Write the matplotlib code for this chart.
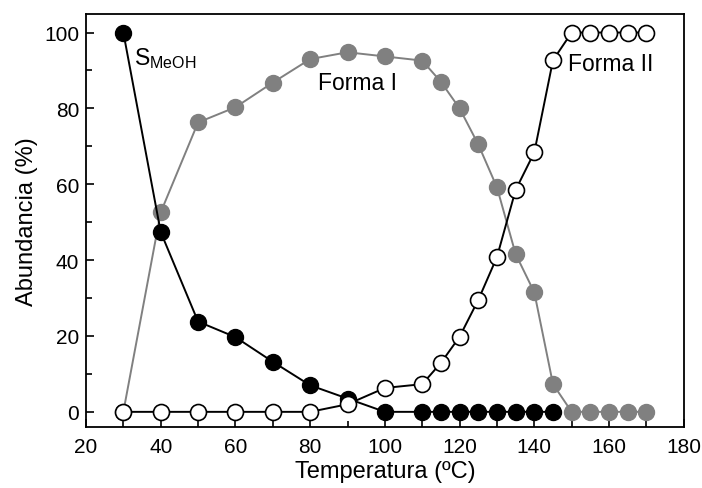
import matplotlib
matplotlib.use("Agg")
import matplotlib.pyplot as plt
import numpy as np

plt.rcParams['font.family'] = ['Liberation Sans', 'DejaVu Sans']

# Temperature (ºC) and abundance (%) of each phase
temp_smeoh = [30, 40, 50, 60, 70, 80, 90, 100, 110, 115, 120, 125, 130, 135, 140, 145]
smeoh = [100, 47.4, 23.8, 19.7, 13.2, 7.0, 3.5, 0, 0, 0, 0, 0, 0, 0, 0, 0]

temp_forma1 = [30, 40, 50, 60, 70, 80, 90, 100, 110, 115, 120, 125, 130, 135, 140, 145,
               150, 155, 160, 165, 170]
forma1 = [0, 52.6, 76.3, 80.3, 86.8, 93.0, 94.8, 93.7, 92.6, 87.0, 80.0, 70.5, 59.2,
          41.6, 31.5, 7.3, 0, 0, 0, 0, 0]

temp_forma2 = [30, 40, 50, 60, 70, 80, 90, 100, 110, 115, 120, 125, 130, 135, 140, 145,
               150, 155, 160, 165, 170]
forma2 = [0, 0, 0, 0, 0, 0, 2.0, 6.3, 7.3, 12.9, 19.8, 29.5, 40.8, 58.5, 68.4, 92.7,
          100, 100, 100, 100, 100]

xticks = [20, 40, 60, 80, 100, 120, 140, 160, 180]
yticks = [0, 20, 40, 60, 80, 100]

fig = plt.figure(figsize=(7.02, 4.89), dpi=100)
ax = fig.add_axes([0.1225, 0.1247, 0.8515, 0.8455])

gray = '#808080'
ms = 11.5
ax.plot(temp_forma1, forma1, '-', color=gray, lw=1.4, marker='o', ms=ms,
        mfc=gray, mec=gray, zorder=2)
ax.plot(temp_smeoh, smeoh, '-', color='black', lw=1.4, marker='o', ms=ms,
        mfc='black', mec='black', zorder=3)
ax.plot(temp_forma2, forma2, '-', color='black', lw=1.4, marker='o', ms=ms,
        mfc='white', mec='black', mew=1.2, zorder=4)

ax.set_xlim(20, 180)
ax.set_ylim(-4, 105)
ax.set_xticks(xticks)
ax.set_yticks(yticks)
ax.set_xticks(np.arange(30, 180, 20), minor=True)
ax.set_yticks(np.arange(10, 100, 20), minor=True)
ax.tick_params(axis='both', which='both', direction='in', top=False, right=False,
               labelsize=15, width=1.2)
ax.tick_params(which='major', length=6)
ax.tick_params(which='minor', length=4)
ax.tick_params(axis='x', pad=7)
ax.tick_params(axis='y', pad=5)
for s in ax.spines.values():
    s.set_linewidth(1.3)

ax.set_xlabel('Temperatura (ºC)', fontsize=17, labelpad=3)
ax.set_ylabel('Abundancia (%)', fontsize=17, labelpad=4)

ax.text(32.8, 93.3, r'S$_{\mathregular{MeOH}}$', fontsize=16.5, ha='left', va='center')
ax.text(92.7, 86.8, 'Forma I', fontsize=16.5, ha='center', va='center')
ax.text(149, 91.8, 'Forma II', fontsize=16.5, ha='left', va='center')

fig.savefig('out.png', dpi=100)
